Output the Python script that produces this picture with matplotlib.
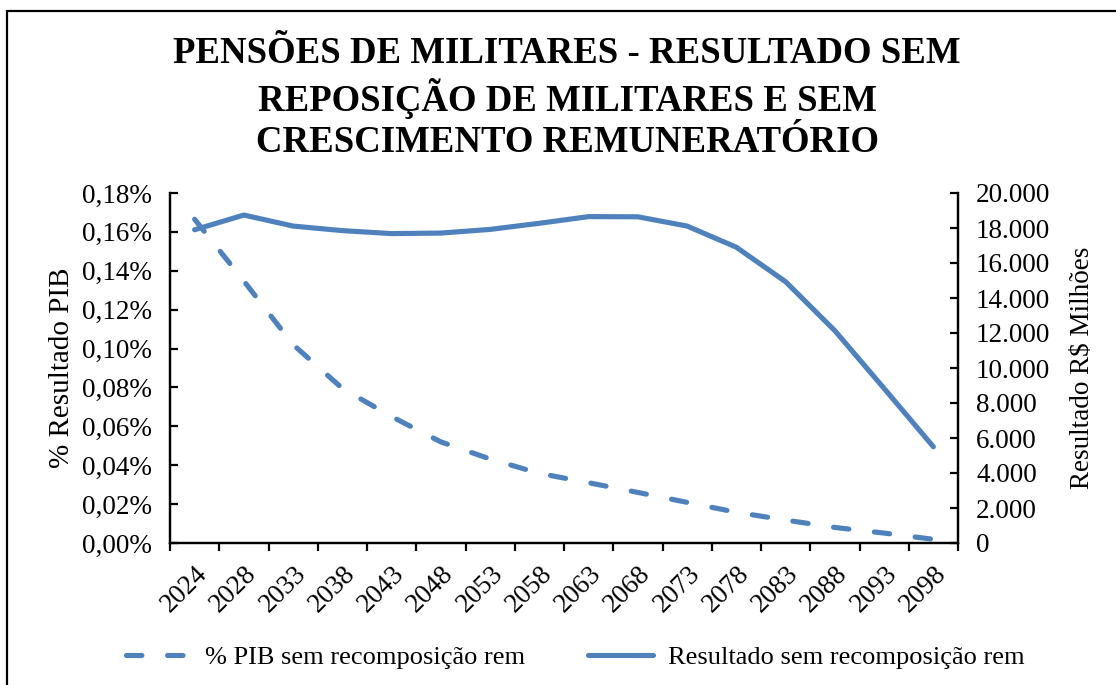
import matplotlib
matplotlib.use('Agg')
import matplotlib.pyplot as plt
import matplotlib.transforms as mtransforms
from matplotlib.patches import Rectangle
from matplotlib.ticker import FuncFormatter

plt.rcParams['font.family'] = ['Liberation Serif', 'DejaVu Serif']

# dados
anos = ['2024', '2028', '2033', '2038', '2043', '2048', '2053', '2058',
        '2063', '2068', '2073', '2078', '2083', '2088', '2093', '2098']
pib_pct = [0.1665, 0.1347, 0.1020, 0.0795, 0.0650, 0.0520, 0.0432, 0.0358,
           0.0310, 0.0260, 0.0209, 0.0158, 0.0118, 0.0080, 0.0051, 0.0019]
resultado = [17900, 18740, 18110, 17850, 17680, 17710, 17920, 18270,
             18650, 18640, 18110, 16900, 14930, 12130, 8830, 5500]

cor = '#4f81bd'
W, H = 1116, 685
fig = plt.figure(figsize=(W / 100, H / 100), dpi=100)

# moldura do grafico
fig.patches.append(Rectangle((7 / W, -0.05), 1.2, 1 - 11 / H + 0.05,
                             transform=fig.transFigure, fill=False,
                             edgecolor='black', linewidth=1.6))

ax = fig.add_axes([170 / W, 1 - 543 / H, (958 - 170) / W, (543 - 193) / H])
ax2 = ax.twinx()

x = list(range(len(anos)))
ax.plot(x, pib_pct, color=cor, linewidth=3.7, dashes=(3.0, 5.0),
        dash_capstyle='round', solid_capstyle='round',
        label='% PIB sem recomposição rem')
ax2.plot(x, resultado, color=cor, linewidth=3.7, solid_capstyle='round',
         label='Resultado sem recomposição rem')

ax.set_xlim(-0.5, len(anos) - 0.5)
ax.set_ylim(0, 0.18)
ax2.set_ylim(0, 20000)
ax.set_yticks([i * 0.02 for i in range(10)])
ax2.set_yticks(range(0, 20001, 2000))

ax.yaxis.set_major_formatter(FuncFormatter(lambda v, p: f'{v:.2f}%'.replace('.', ',')))
ax2.yaxis.set_major_formatter(FuncFormatter(lambda v, p: f'{int(round(v)):,}'.replace(',', '.')))

# marcas entre categorias, rotulos no centro
ax.set_xticks([i - 0.5 for i in range(len(anos) + 1)])
ax.set_xticklabels([])
ax.set_xticks(x, minor=True)
ax.set_xticklabels(anos, minor=True, rotation=45, ha='right', va='top',
                   rotation_mode='anchor', fontsize=19.5)
shift = mtransforms.ScaledTranslation(-5 / 100, -2 / 100, fig.dpi_scale_trans)
for lbl in ax.get_xticklabels(minor=True):
    lbl.set_transform(lbl.get_transform() + shift)
ax.tick_params(axis='x', which='major', direction='out', length=6, width=1.6)
ax.tick_params(axis='x', which='minor', length=0, pad=13)
ax.tick_params(axis='y', direction='in', length=6, width=1.6, labelsize=19.5, pad=13)
ax2.tick_params(axis='y', direction='in', length=6, width=1.6, labelsize=19.5, pad=13)

for a in (ax, ax2):
    for s in a.spines.values():
        s.set_linewidth(1.6)
ax.spines['top'].set_visible(False)
ax2.spines['top'].set_visible(False)

ax.set_ylabel('% Resultado PIB', fontsize=21, labelpad=5)
ax2.set_ylabel('Resultado R$ Milhões', fontsize=19.5, labelpad=14)

fig.text(567 / W, 1 - 98 / H,
         'PENSÕES DE MILITARES - RESULTADO SEM\nREPOSIÇÃO DE MILITARES E SEM\nCRESCIMENTO REMUNERATÓRIO',
         ha='center', va='center', fontsize=26.5, fontweight='bold', linespacing=1.22)

h1, l1 = ax.get_legend_handles_labels()
h2, l2 = ax2.get_legend_handles_labels()
fig.legend(h1 + h2, l1 + l2, loc='center', bbox_to_anchor=(575 / W, 1 - 657 / H),
           ncol=2, frameon=False, fontsize=19, handlelength=2.45,
           handletextpad=0.55, columnspacing=2.4)

fig.savefig('out.png', dpi=100)
